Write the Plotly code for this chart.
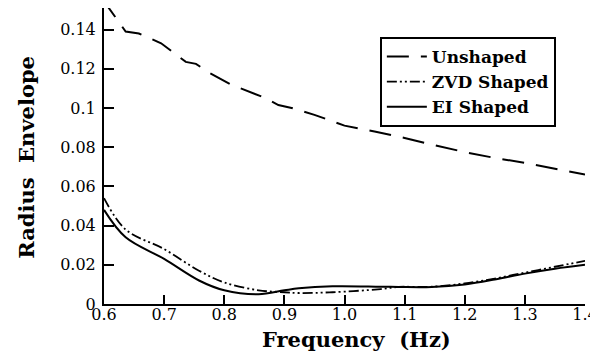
import plotly.graph_objects as go

freq_unshaped = [0.600, 0.608, 0.636, 0.658, 0.695, 0.720, 0.736, 0.753, 0.775, 0.811, 0.836, 0.869, 0.890, 0.912, 0.950, 1.000, 1.050, 1.100, 1.150, 1.200, 1.250, 1.300, 1.350, 1.400]
unshaped = [0.156, 0.151, 0.139, 0.138, 0.133, 0.127, 0.1235, 0.1225, 0.118, 0.112, 0.109, 0.105, 0.1015, 0.100, 0.0965, 0.091, 0.088, 0.0847, 0.081, 0.0775, 0.0745, 0.072, 0.069, 0.066]

freq_shaped = [0.600, 0.636, 0.700, 0.758, 0.800, 0.857, 0.900, 0.924, 0.980, 1.060, 1.090, 1.145, 1.200, 1.250, 1.300, 1.350, 1.400]
zvd = [0.054, 0.038, 0.028, 0.017, 0.011, 0.007, 0.006, 0.0056, 0.006, 0.0076, 0.0087, 0.0088, 0.0105, 0.013, 0.016, 0.019, 0.022]
ei = [0.048, 0.034, 0.023, 0.012, 0.007, 0.005, 0.007, 0.008, 0.009, 0.0088, 0.0087, 0.0087, 0.010, 0.0125, 0.0155, 0.018, 0.020]

x_ticks = [0.6, 0.7, 0.8, 0.9, 1.0, 1.1, 1.2, 1.3, 1.4]
x_labels = ["0.6", "0.7", "0.8", "0.9", "1.0", "1.1", "1.2", "1.3", "1.4"]
y_ticks = [0, 0.02, 0.04, 0.06, 0.08, 0.1, 0.12, 0.14]
y_labels = ["0", "0.02", "0.04", "0.06", "0.08", "0.1", "0.12", "0.14"]

x_title = "Frequency\u00a0\u00a0(Hz)"
y_title = "Radius\u00a0\u00a0Envelope"

serif = "DejaVu Serif"

fig = go.Figure()
fig.add_trace(go.Scatter(x=freq_unshaped, y=unshaped, mode="lines", name="Unshaped",
                         line=dict(color="black", width=2, dash="22px,12px")))
fig.add_trace(go.Scatter(x=freq_shaped, y=zvd, mode="lines", name="ZVD Shaped",
                         line=dict(color="black", width=1.8, dash="10px,3px,2px,3px,2px,3px"), line_shape="spline"))
fig.add_trace(go.Scatter(x=freq_shaped, y=ei, mode="lines", name="EI Shaped",
                         line=dict(color="black", width=2), line_shape="spline"))

# page body has an 8px default margin, so the figure is drawn 8px smaller
fig.update_layout(
    width=590, height=350,
    margin=dict(l=96, r=11, t=0, b=54),
    plot_bgcolor="white", paper_bgcolor="white",
    font=dict(family=serif, color="black", size=16),
    legend=dict(x=0.5735, y=0.902, xanchor="left", yanchor="top",
                bordercolor="black", borderwidth=2, bgcolor="white",
                font=dict(family=serif, size=17, color="black", weight="bold"),
                tracegroupgap=0, itemwidth=40),
    xaxis=dict(range=[0.6, 1.4], tickvals=x_ticks, ticktext=x_labels,
               ticks="inside", ticklen=9, tickwidth=1.5, tickcolor="black",
               showline=True, linecolor="black", linewidth=2, showgrid=False, zeroline=False,
               tickfont=dict(family=serif, size=16), ticklabelstandoff=-5,
               ticklabeloverflow="allow"),
    yaxis=dict(range=[0, 0.151], tickvals=y_ticks, ticktext=y_labels,
               ticks="inside", ticklen=10, tickwidth=2, tickcolor="black",
               showline=True, linecolor="black", linewidth=2, showgrid=False, zeroline=False,
               tickfont=dict(family=serif, size=16), ticklabelstandoff=3),
    annotations=[
        dict(text=x_title, xref="paper", yref="paper", x=0.525, y=-0.1216,
             xanchor="center", yanchor="middle", showarrow=False,
             font=dict(family=serif, size=21, weight="bold", color="black")),
        dict(text=y_title, xref="paper", yref="paper", x=-0.1615, y=0.495,
             xanchor="center", yanchor="middle", showarrow=False, textangle=-90,
             font=dict(family=serif, size=21, weight="bold", color="black")),
    ],
    showlegend=True,
)

fig.write_html("out.html")
